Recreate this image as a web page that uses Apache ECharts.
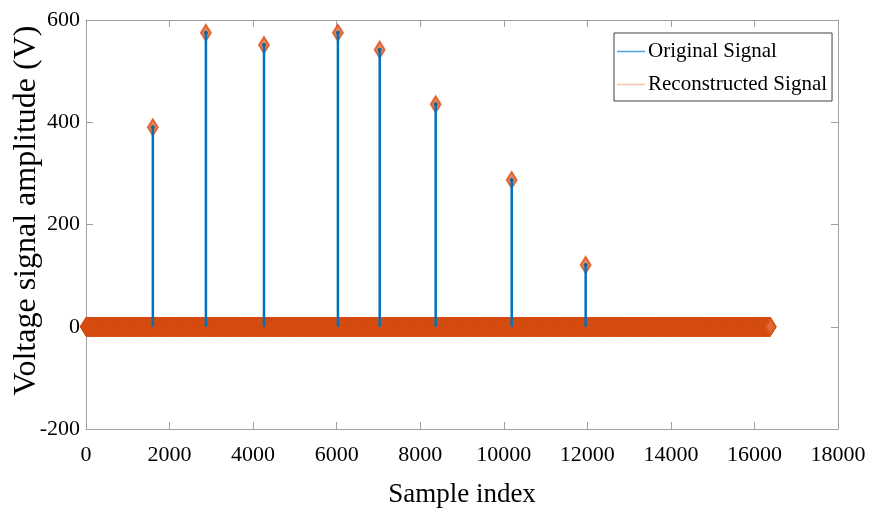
<!DOCTYPE html>
<html>
<head>
<meta charset="utf-8">
<script src="https://cdn.jsdelivr.net/npm/echarts@6/dist/echarts.min.js"></script>
<style>html,body{margin:0;padding:0;background:#fff}#c{width:870px;height:513px}</style>
</head>
<body>
<div id="c"></div>
<script>
// ---- data ----
const sampleCount = 16384;                 // samples shown on the x axis (0 .. 16383)
const peakIndex = [1600, 2870, 4260, 6030, 7030, 8370, 10190, 11960];
const originalPeak = [390, 575, 551, 575, 542, 435, 287, 121];
const reconstructedPeak = [390, 575, 551, 575, 542, 435, 287, 121];
const xTicks = [0, 2000, 4000, 6000, 8000, 10000, 12000, 14000, 16000, 18000];
const yTicks = [-200, 0, 200, 400, 600];
const seriesNames = ['Original Signal', 'Reconstructed Signal'];

// reconstructed signal: zero everywhere except at the peaks
const reconstructed = [];
const peakMap = {};
peakIndex.forEach((k, i) => { peakMap[k] = reconstructedPeak[i]; });
for (let n = 0; n < sampleCount; n++) {
  reconstructed.push([n, peakMap[n] !== undefined ? peakMap[n] : 0]);
}
const original = peakIndex.map((k, i) => [k, originalPeak[i]]);

const font = 'Liberation Serif';
const axisGrey = '#a0a0a0';
const plain = v => String(v);
const chart = echarts.init(document.getElementById('c'));
chart.setOption({
  animation: false,
  backgroundColor: '#fff',
  grid: { left: 86, right: 32, top: 20, bottom: 84, containLabel: false, outerBoundsMode: 'none' },
  legend: {
    orient: 'vertical', left: 614, top: 33,
    padding: [8, 5, 6, 3], itemGap: 12,
    itemWidth: 28, itemHeight: 1.5,
    borderColor: '#404040', borderWidth: 1, borderRadius: 0,
    backgroundColor: '#fff',
    textStyle: { fontFamily: font, fontSize: 21, color: '#000', padding: [0, 0, 0, -2] },
    data: [
      { name: seriesNames[0], icon: 'rect', itemStyle: { color: '#4da3e0', borderWidth: 0 } },
      { name: seriesNames[1], icon: 'rect', itemStyle: { color: '#f4b49a', borderWidth: 0 } }
    ]
  },
  xAxis: [{
    type: 'value', min: xTicks[0], max: xTicks[xTicks.length - 1], interval: 2000,
    name: 'Sample index', nameLocation: 'middle', nameGap: 52, nameMoveOverlap: false,
    nameTextStyle: { fontFamily: font, fontSize: 27, color: '#000' },
    axisLine: { onZero: false, lineStyle: { color: axisGrey, width: 1 } },
    axisTick: { inside: true, length: 7, lineStyle: { color: axisGrey } },
    axisLabel: { fontFamily: font, fontSize: 22, color: '#000', margin: 15, formatter: plain },
    splitLine: { show: false }
  }, {
    type: 'value', position: 'top', min: xTicks[0], max: xTicks[xTicks.length - 1], interval: 2000,
    axisLine: { onZero: false, lineStyle: { color: axisGrey, width: 1 } },
    axisTick: { inside: true, length: 7, lineStyle: { color: axisGrey } },
    axisLabel: { show: false }, splitLine: { show: false }
  }],
  yAxis: [{
    type: 'value', min: yTicks[0], max: yTicks[yTicks.length - 1], interval: 200,
    name: 'Voltage signal amplitude (V)', nameLocation: 'middle', nameGap: 43, nameMoveOverlap: false,
    nameTextStyle: { fontFamily: font, fontSize: 32, color: '#000', padding: [0, 0, 0, 28] },
    axisLine: { show: true, onZero: false, lineStyle: { color: axisGrey, width: 1 } },
    axisTick: { show: true, inside: true, length: 7, lineStyle: { color: axisGrey } },
    axisLabel: { fontFamily: font, fontSize: 22, color: '#000', margin: 6, formatter: plain },
    splitLine: { show: false }
  }, {
    type: 'value', position: 'right', min: yTicks[0], max: yTicks[yTicks.length - 1], interval: 200,
    axisLine: { show: true, onZero: false, lineStyle: { color: axisGrey, width: 1 } },
    axisTick: { show: true, inside: true, length: 7, lineStyle: { color: axisGrey } },
    axisLabel: { show: false }, splitLine: { show: false }
  }],
  series: [
    {
      name: seriesNames[1], type: 'scatter', data: reconstructed,
      symbol: 'diamond', symbolSize: [10, 16],
      progressive: 0, large: false, silent: true,
      itemStyle: { color: '#e06a3a', borderColor: '#d95319', borderWidth: 2 },
      z: 2
    },
    {
      name: seriesNames[0], type: 'custom', data: original,
      renderItem: function (params, api) {
        const x = api.value(0), y = api.value(1);
        const p0 = api.coord([x, 0]);
        const p1 = api.coord([x, y]);
        return {
          type: 'group',
          children: [
            { type: 'line', shape: { x1: p0[0], y1: p0[1], x2: p1[0], y2: p1[1] },
              style: { stroke: '#0072bd', lineWidth: 2.5 } },
            { type: 'circle', shape: { cx: p1[0], cy: p1[1], r: 2 },
              style: { fill: '#1f5f8f' } }
          ]
        };
      },
      itemStyle: { color: '#0072bd' },
      z: 3
    }
  ]
});
</script>
</body>
</html>
